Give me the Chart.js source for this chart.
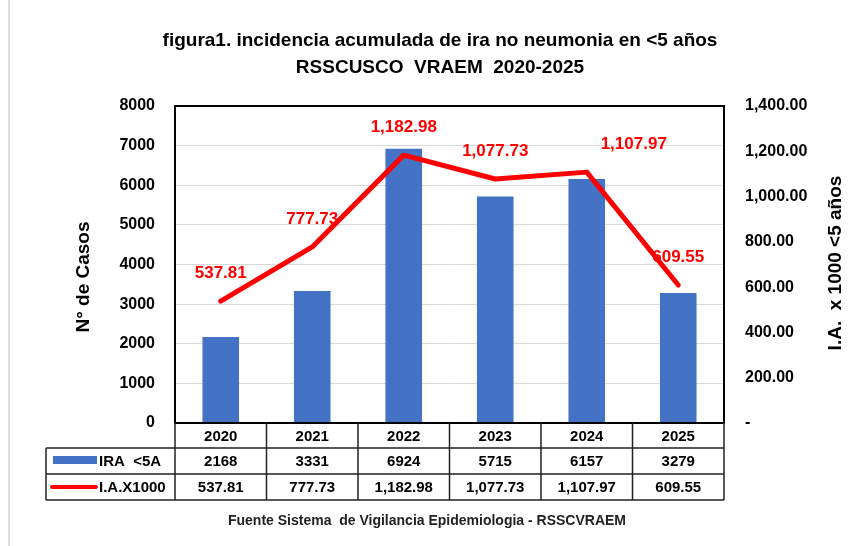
<!DOCTYPE html>
<html>
<head>
  <meta charset="utf-8">
  <title>Incidencia IRA no neumonia</title>
  <script src="https://cdn.jsdelivr.net/npm/chart.js"></script>
  <style>
    body {
      margin: 0;
      background-color: #ffffff;
    }

    .chart-box {
      width: 867px;
      height: 546px;
      position: relative;
    }
  </style>
</head>
<body>
  <div class="chart-box">
    <canvas id="iraChart"></canvas>
  </div>

  <script>
    // datos
    const years = ['2020', '2021', '2022', '2023', '2024', '2025'];
    const casos = [2168, 3331, 6924, 5715, 6157, 3279];
    const incidencia = [537.81, 777.73, 1182.98, 1077.73, 1107.97, 609.55];

    const titleLines = ['figura1. incidencia acumulada de ira no neumonia en <5 años', 'RSSCUSCO  VRAEM  2020-2025'];
    const leftTitle = 'N° de Casos';
    const rightTitle = 'I.A.  x 1000 <5 años';
    const footer = 'Fuente Sistema  de Vigilancia Epidemiologia - RSSCVRAEM';
    const seriesNames = ['IRA  <5A', 'I.A.X1000'];

    // desplazamiento horizontal de cada etiqueta de la linea (solo 2024 esta corrida)
    const labelShift = [0, 0, 0, 0, 47, 0];

    const BLUE = '#4472C4';
    const RED = '#FF0000';
    const FONT = "'Liberation Sans', Arial, sans-serif";

    const fmt = v => v.toLocaleString('en-US', { minimumFractionDigits: 2, maximumFractionDigits: 2 });

    // textos, marco y tabla de datos
    const extrasPlugin = {
      id: 'extras',
      beforeDatasetsDraw(chart) {
        const ctx = chart.ctx;
        const meta = chart.getDatasetMeta(1);
        ctx.save();
        ctx.fillStyle = RED;
        ctx.font = 'bold 17px ' + FONT;
        ctx.textAlign = 'center';
        ctx.textBaseline = 'middle';
        meta.data.forEach((pt, i) => {
          ctx.fillText(fmt(incidencia[i]), pt.x + labelShift[i], pt.y - 28);
        });
        ctx.restore();
      },
      afterDraw(chart) {
        const ctx = chart.ctx;
        const area = chart.chartArea;
        const colW = (area.right - area.left) / years.length;
        ctx.save();

        // borde gris del lado izquierdo
        ctx.fillStyle = '#dcdcdc';
        ctx.fillRect(8, 0, 2, 546);

        // titulo
        ctx.fillStyle = '#000';
        ctx.textAlign = 'center';
        ctx.textBaseline = 'middle';
        ctx.font = 'bold 19px ' + FONT;
        ctx.fillText(titleLines[0], 440, 41);
        ctx.fillText(titleLines[1], 440, 68);

        // titulos de ejes
        ctx.save();
        ctx.translate(84, 277);
        ctx.rotate(-Math.PI / 2);
        ctx.fillText(leftTitle, 0, 0);
        ctx.restore();
        ctx.save();
        ctx.translate(836, 263);
        ctx.rotate(-Math.PI / 2);
        ctx.fillText(rightTitle, 0, 0);
        ctx.restore();

        // marco del area de trazado
        ctx.strokeStyle = '#000';
        ctx.lineWidth = 2;
        ctx.strokeRect(area.left, area.top, area.right - area.left, area.bottom - area.top);

        // tabla
        const rowY = [area.bottom, area.bottom + 25, area.bottom + 51, area.bottom + 77];
        const tableLeft = 46;
        ctx.lineWidth = 1.5;
        ctx.strokeStyle = '#222';
        ctx.beginPath();
        for (let i = 0; i <= years.length; i++) {
          const x = area.left + i * colW;
          ctx.moveTo(x, rowY[0]);
          ctx.lineTo(x, rowY[3]);
        }
        ctx.moveTo(tableLeft, rowY[1]);
        ctx.lineTo(tableLeft, rowY[3]);
        ctx.moveTo(tableLeft, rowY[1]);
        ctx.lineTo(area.right, rowY[1]);
        ctx.moveTo(tableLeft, rowY[2]);
        ctx.lineTo(area.right, rowY[2]);
        ctx.moveTo(tableLeft, rowY[3]);
        ctx.lineTo(area.right, rowY[3]);
        ctx.stroke();

        ctx.font = 'bold 15px ' + FONT;
        ctx.fillStyle = '#000';
        years.forEach((y, i) => {
          const cx = area.left + (i + 0.5) * colW;
          ctx.fillText(y, cx, (rowY[0] + rowY[1]) / 2 + 1);
          ctx.fillText(String(casos[i]), cx, (rowY[1] + rowY[2]) / 2 + 1);
          ctx.fillText(fmt(incidencia[i]), cx, (rowY[2] + rowY[3]) / 2 + 1);
        });

        // claves de la leyenda
        ctx.fillStyle = BLUE;
        ctx.fillRect(53, rowY[1] + 8, 44, 8);
        ctx.strokeStyle = RED;
        ctx.lineWidth = 4;
        ctx.lineCap = 'round';
        ctx.beginPath();
        ctx.moveTo(52, (rowY[2] + rowY[3]) / 2);
        ctx.lineTo(96, (rowY[2] + rowY[3]) / 2);
        ctx.stroke();
        ctx.fillStyle = '#000';
        ctx.textAlign = 'left';
        ctx.fillText(seriesNames[0], 99, (rowY[1] + rowY[2]) / 2 + 1);
        ctx.fillText(seriesNames[1], 99, (rowY[2] + rowY[3]) / 2 + 1);

        // fuente
        ctx.textAlign = 'center';
        ctx.font = 'bold 14px ' + FONT;
        ctx.fillStyle = '#222';
        ctx.fillText(footer, 427, 521);

        ctx.restore();
      }
    };

    const ctx = document.getElementById('iraChart').getContext('2d');
    new Chart(ctx, {
      type: 'bar',
      data: {
        labels: years,
        datasets: [{
          label: seriesNames[0],
          data: casos,
          backgroundColor: BLUE,
          barPercentage: 0.4,
          categoryPercentage: 1.0,
          yAxisID: 'y',
          order: 2
        }, {
          type: 'line',
          label: seriesNames[1],
          data: incidencia,
          borderColor: RED,
          borderWidth: 5,
          borderCapStyle: 'round',
          borderJoinStyle: 'round',
          pointRadius: 0,
          tension: 0,
          yAxisID: 'y1',
          order: 1
        }]
      },
      options: {
        responsive: true,
        maintainAspectRatio: false,
        animation: false,
        layout: {
          padding: { left: 0, right: 0, top: 106, bottom: 123 }
        },
        plugins: {
          legend: { display: false },
          tooltip: { enabled: false }
        },
        scales: {
          x: {
            display: false
          },
          y: {
            position: 'left',
            min: 0,
            max: 8000,
            ticks: {
              stepSize: 1000,
              padding: 20,
              color: '#000',
              font: { family: FONT, size: 16, weight: 'bold' },
              callback: v => String(v)
            },
            grid: { color: '#d9d9d9', lineWidth: 1, drawTicks: false },
            border: { display: false },
            afterFit(scale) { scale.width = 175; }
          },
          y1: {
            position: 'right',
            min: 0,
            max: 1400,
            ticks: {
              stepSize: 200,
              padding: 21,
              color: '#000',
              font: { family: FONT, size: 16, weight: 'bold' },
              callback: v => v === 0 ? '-' : fmt(v)
            },
            grid: { display: false, drawTicks: false },
            border: { display: false },
            afterFit(scale) { scale.width = 143; }
          }
        }
      },
      plugins: [extrasPlugin]
    });
  </script>
</body>
</html>
